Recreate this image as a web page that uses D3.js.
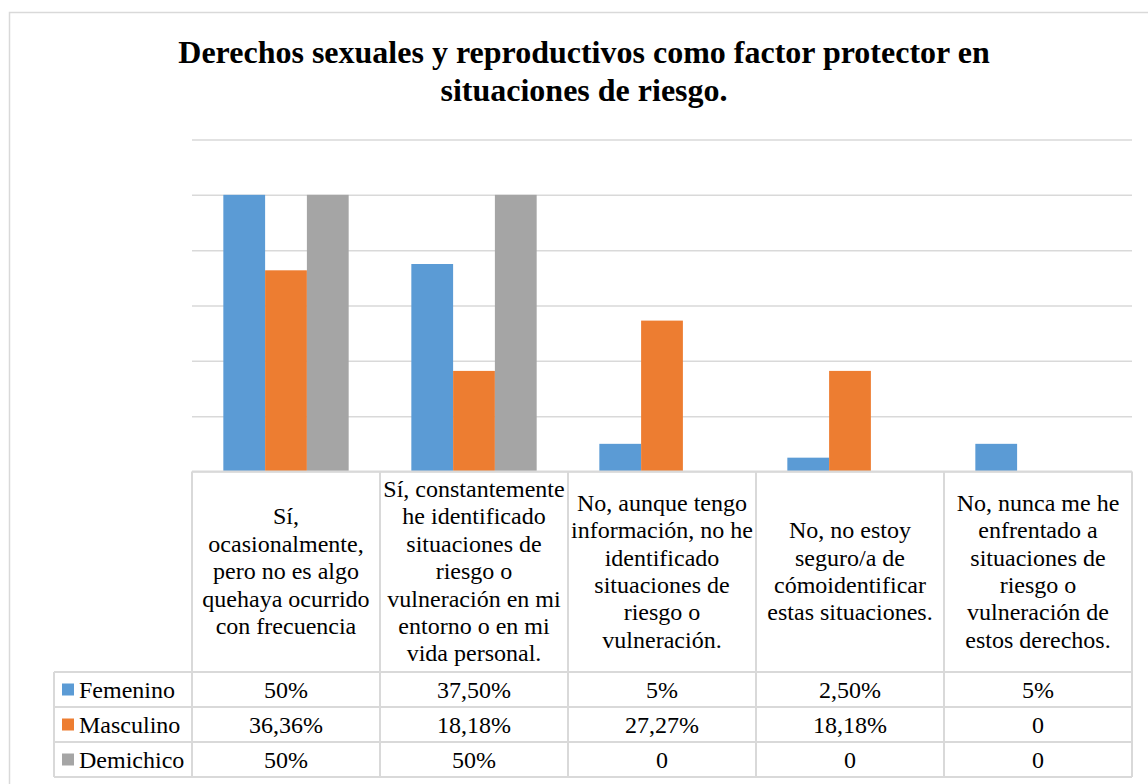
<!DOCTYPE html>
<html>
<head>
<meta charset="utf-8">
<script src="https://cdn.jsdelivr.net/npm/d3@7"></script>
<style>
  html, body { margin: 0; padding: 0; background: #fff; }
  svg { display: block; }
  text { font-family: "Times New Roman", "Liberation Serif", serif; fill: #000; }
</style>
</head>
<body>
<svg id="chart" width="1148" height="784"></svg>
<script>
// Chart data
const title = ["Derechos sexuales y reproductivos como factor protector en", "situaciones de riesgo."];
const categories = [
  ["Sí,", "ocasionalmente,", "pero no es algo", "quehaya ocurrido", "con frecuencia"],
  ["Sí, constantemente", "he identificado", "situaciones de", "riesgo o", "vulneración en mi", "entorno o en mi", "vida personal."],
  ["No, aunque tengo", "información, no he", "identificado", "situaciones de", "riesgo o", "vulneración."],
  ["No, no estoy", "seguro/a de", "cómoidentificar", "estas situaciones."],
  ["No, nunca me he", "enfrentado a", "situaciones de", "riesgo o", "vulneración de", "estos derechos."]
];
const seriesNames = ["Femenino", "Masculino", "Demichico"];
const femenino  = [50, 37.5, 5, 2.5, 5];
const masculino = [36.36, 18.18, 27.27, 18.18, 0];
const demichico = [50, 50, 0, 0, 0];
const seriesColors = ["#5B9BD5", "#ED7D31", "#A5A5A5"];
const gridTicks = [0, 10, 20, 30, 40, 50, 60];

const seriesValues = [femenino, masculino, demichico];
const catIndex = categories.map((_, i) => i);

// Layout
const plotLeft = 192, plotRight = 1132;
const yTop = 139.5, yBase = 471.5;
const headerBottom = 672, rowH = 35, legendLeft = 54;
const fontSize = 24, lineGap = 27.4;
const gridColor = "#D9D9D9";

const svg = d3.select("#chart");

// Outer chart frame
svg.append("rect")
  .attr("x", 9.5).attr("y", 12.5)
  .attr("width", 1300).attr("height", 900)
  .attr("fill", "#fff").attr("stroke", gridColor).attr("stroke-width", 1.5);

// Title
svg.append("g").selectAll("text").data(title).join("text")
  .attr("x", 584).attr("y", (d, i) => 63 + i * 38)
  .attr("text-anchor", "middle")
  .style("font-size", "32px").style("font-weight", "bold")
  .text(d => d);

// Scales
const x = d3.scaleBand().domain(catIndex).range([plotLeft, plotRight]).padding(0);
const xs = d3.scaleBand().domain(d3.range(seriesNames.length))
  .range([0, x.bandwidth()]).paddingInner(0).paddingOuter(0.75);
const y = d3.scaleLinear().domain([0, 60]).range([yBase, yTop]);

// Gridlines
const grid = svg.append("g").attr("transform", `translate(${plotLeft},0)`)
  .call(d3.axisLeft(y).tickValues(gridTicks).tickSize(-(plotRight - plotLeft)).tickFormat(""));
grid.select(".domain").remove();
grid.selectAll(".tick line").attr("stroke", gridColor).attr("stroke-width", 1.5);

// Bars
const groups = svg.append("g").selectAll("g").data(catIndex).join("g")
  .attr("transform", c => `translate(${x(c)},0)`);
groups.selectAll("rect")
  .data(c => seriesValues.map((vals, s) => ({ s, v: vals[c] })))
  .join("rect")
  .attr("x", d => xs(d.s))
  .attr("width", xs.bandwidth())
  .attr("y", d => y(d.v))
  .attr("height", d => yBase - y(d.v))
  .attr("fill", d => seriesColors[d.s]);

// Data table
const table = svg.append("g");
const tableBottom = headerBottom + rowH * seriesNames.length;
const line = (x1, y1, x2, y2) => table.append("line")
  .attr("x1", x1).attr("y1", y1).attr("x2", x2).attr("y2", y2)
  .attr("stroke", gridColor).attr("stroke-width", 2);

// horizontal rules
line(plotLeft, yBase, plotRight, yBase);
d3.range(seriesNames.length + 1).forEach(r => {
  const yy = headerBottom + r * rowH;
  line(legendLeft, yy, plotRight, yy);
});
// vertical rules
catIndex.concat([categories.length]).forEach(c => {
  const xx = c < categories.length ? x(c) : plotRight;
  line(xx, yBase, xx, tableBottom);
});
line(legendLeft, headerBottom, legendLeft, tableBottom);

// Category headers
const headerMid = (yBase + headerBottom) / 2;
catIndex.forEach(c => {
  const lines = categories[c];
  const cx = x(c) + x.bandwidth() / 2;
  table.append("g").selectAll("text").data(lines).join("text")
    .attr("x", cx)
    .attr("y", (d, i) => headerMid + (i - (lines.length - 1) / 2) * lineGap + 7.5)
    .attr("text-anchor", "middle")
    .style("font-size", fontSize + "px")
    .text(d => d);
});

// Value format: 50% / 37,50% / 0
const fmt = v => v === 0 ? "0" : (Number.isInteger(v) ? v + "%" : v.toFixed(2).replace(".", ",") + "%");

seriesNames.forEach((name, s) => {
  const mid = headerBottom + s * rowH + rowH / 2;
  table.append("rect")
    .attr("x", 62).attr("y", mid - 6).attr("width", 12).attr("height", 12)
    .attr("fill", seriesColors[s]);
  table.append("text")
    .attr("x", 79).attr("y", mid + 8)
    .style("font-size", fontSize + "px")
    .text(name);
  table.append("g").selectAll("text").data(catIndex).join("text")
    .attr("x", c => x(c) + x.bandwidth() / 2)
    .attr("y", mid + 8)
    .attr("text-anchor", "middle")
    .style("font-size", fontSize + "px")
    .text(c => fmt(seriesValues[s][c]));
});
</script>
</body>
</html>
